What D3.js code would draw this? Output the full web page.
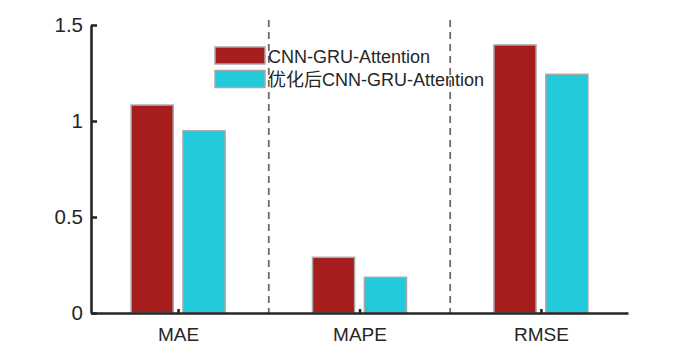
<!DOCTYPE html>
<html>
<head>
<meta charset="utf-8">
<script src="https://cdn.jsdelivr.net/npm/d3@7"></script>
<style>
  body { margin: 0; background: #fff; }
  text { font-family: "Liberation Sans", Arial, "Noto Sans CJK SC", sans-serif; fill: #262626; }
</style>
</head>
<body>
<div id="chart"></div>
<script>
// metrics shown on the x axis
var categories = ["MAE", "MAPE", "RMSE"];
// the two models
var seriesNames = ["CNN-GRU-Attention", "优化后CNN-GRU-Attention"];
var baseValues = [1.083, 0.290, 1.396];
var optValues = [0.949, 0.186, 1.243];
var yTicks = [0, 0.5, 1, 1.5];

var colors = ["#a51d1d", "#22c9da"];

var width = 693, height = 353;

var svg = d3.select("#chart")
    .append("svg")
    .attr("width", width)
    .attr("height", height);

// x in category units, like the original plot
var x = d3.scaleLinear()
    .domain([0.52, 3.48])
    .range([91, 628]);

var y = d3.scaleLinear()
    .domain([0, 1.5])
    .range([313, 25]);

var barW = 0.232, offset = 0.143;

// dashed separators between groups
svg.selectAll(".sep")
    .data([1.5, 2.5])
    .enter().append("line")
    .attr("x1", function(d) { return x(d); })
    .attr("x2", function(d) { return x(d); })
    .attr("y1", y(1.5) - 5)
    .attr("y2", y(0))
    .attr("stroke", "#6a6a6a")
    .attr("stroke-width", 1.8)
    .attr("stroke-dasharray", "7,5");

// bars
var series = [baseValues, optValues];
series.forEach(function(vals, s) {
  svg.selectAll(".bar" + s)
      .data(vals)
      .enter().append("rect")
      .attr("x", function(d, i) { return x(i + 1 + (s === 0 ? -offset : offset) - barW / 2); })
      .attr("width", x(barW) - x(0))
      .attr("y", function(d) { return y(d); })
      .attr("height", function(d) { return y(0) - y(d); })
      .attr("fill", colors[s])
      .attr("stroke", "#a8a8a8")
      .attr("stroke-width", 1.5);
});

// y axis
var yAxis = d3.axisLeft(y)
    .tickValues(yTicks)
    .tickSizeInner(-6)
    .tickSizeOuter(0)
    .tickPadding(8)
    .tickFormat(d3.format("~g"));

var gy = svg.append("g")
    .attr("transform", "translate(" + x(0.52) + ",0)")
    .call(yAxis);

// x axis
var xAxis = d3.axisBottom(x)
    .tickValues([1, 2, 3])
    .tickSizeInner(-4)
    .tickSizeOuter(0)
    .tickPadding(15)
    .tickFormat(function(d) { return categories[d - 1]; });

var gx = svg.append("g")
    .attr("transform", "translate(0," + y(0) + ")")
    .call(xAxis);

[gx, gy].forEach(function(g) {
  g.select(".domain").attr("stroke", "#262626").attr("stroke-width", 2.6);
  g.selectAll(".tick line").attr("stroke", "#262626").attr("stroke-width", 2.6);
  g.selectAll(".tick text").attr("fill", "#262626")
      .style("font-family", "Liberation Sans, Arial, sans-serif");
});
gx.selectAll(".tick text").attr("font-size", 19);
gy.selectAll(".tick text").attr("font-size", 20.5);

// legend
var legend = svg.append("g");
seriesNames.forEach(function(name, s) {
  var yy = 47 + s * 23.5;
  legend.append("rect")
      .attr("x", 215)
      .attr("y", yy)
      .attr("width", 50)
      .attr("height", 17)
      .attr("fill", colors[s])
      .attr("stroke", "#a8a8a8")
      .attr("stroke-width", 1.5);
  legend.append("text")
      .attr("x", 268)
      .attr("y", yy + 9.5)
      .attr("dy", "0.35em")
      .attr("font-size", 18)
      .text(name);
});
</script>
</body>
</html>
